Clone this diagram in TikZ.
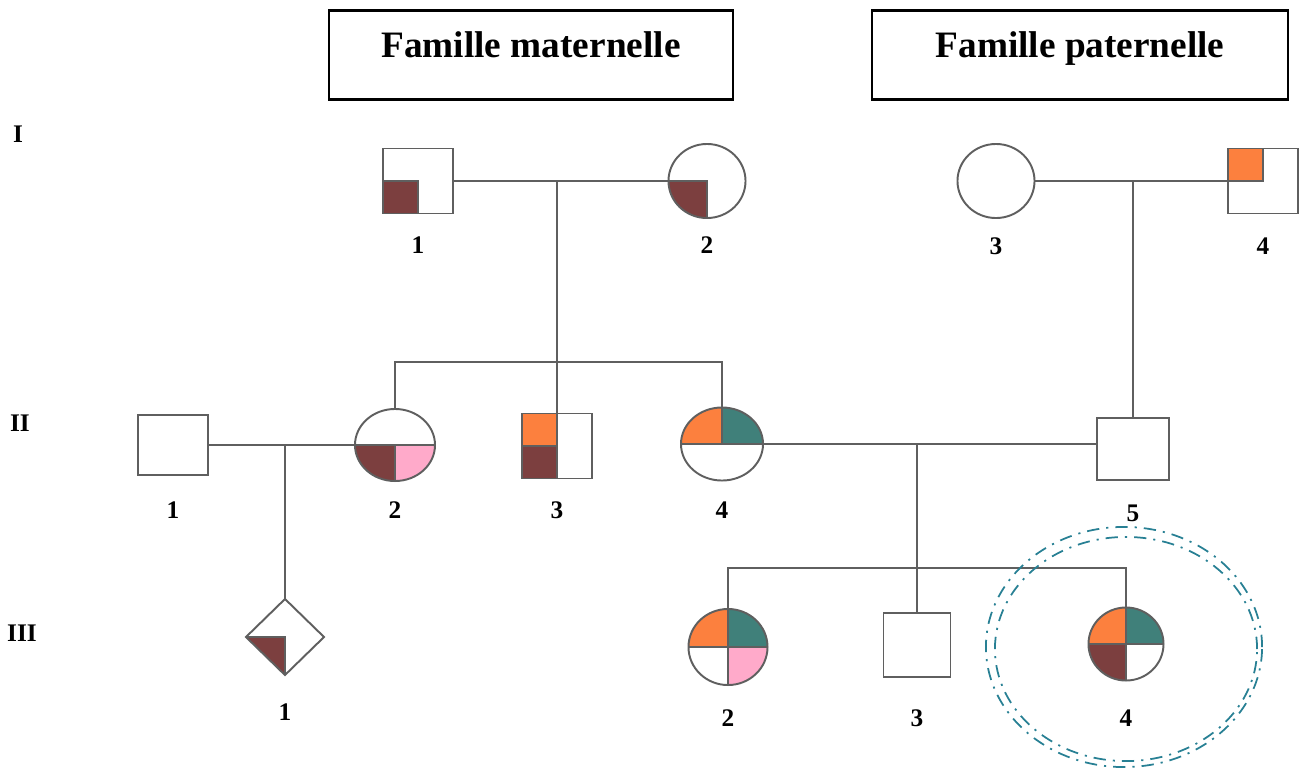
\documentclass[tikz,border=0pt]{standalone}
\usepackage{fontspec}
\setmainfont{Liberation Serif}
\usepackage{xcolor,tikz}
\usetikzlibrary{shapes.geometric,positioning}

\definecolor{brun}{RGB}{124,63,63}
\definecolor{orng}{RGB}{252,128,62}
\definecolor{sarc}{RGB}{64,128,122}
\definecolor{rose}{RGB}{255,170,202}
\definecolor{lgray}{RGB}{95,95,95}
\definecolor{cible}{RGB}{40,128,148}

\begin{document}
\begin{tikzpicture}[x=0.01cm,y=-0.01cm,
  ln/.style={draw=lgray,line width=0.55pt},
  fn/.style={},
  fb/.style={ln,fill=brun},
  fo/.style={ln,fill=orng},
  ft/.style={ln,fill=sarc},
  fp/.style={ln,fill=rose},
  pie/.style n args={4}{path picture={
    \path[#1] (path picture bounding box.center) rectangle (path picture bounding box.north west);
    \path[#2] (path picture bounding box.center) rectangle (path picture bounding box.north east);
    \path[#3] (path picture bounding box.center) rectangle (path picture bounding box.south west);
    \path[#4] (path picture bounding box.center) rectangle (path picture bounding box.south east);}},
  male/.style={ln,rectangle,minimum width=7mm,minimum height=6.5mm,inner sep=0pt,outer sep=0pt},
  female/.style={ln,ellipse,minimum width=7.7mm,minimum height=7.4mm,inner sep=0pt,outer sep=0pt},
  unk/.style={ln,diamond,minimum width=7.8mm,minimum height=7.6mm,inner sep=0pt,outer sep=0pt},
  hdr/.style={draw=black,line width=0.6pt,minimum height=8.9mm,text depth=2mm,font=\fontsize{10.6}{12}\selectfont\bfseries},
  num/.style={font=\fontsize{7.2}{8}\selectfont\bfseries},
  dsh/.style={draw=cible,line width=0.5pt,dash pattern=on 3.5pt off 2pt on 0.6pt off 2pt}]
\useasboundingbox (0,0) rectangle (1303,769);

% en-tetes
\node[hdr,minimum width=4.03cm] (mat) at (531,55) {Famille maternelle};
\node[hdr,minimum width=4.16cm] (pat) at (1080,55) {Famille paternelle};

% generations
\node[num] (gI) at (18,134) {I};
\node[num] (gII) at (20,423) {II};
\node[num] (gIII) at (22,633) {III};

% generation I
\node[male,pie={fn}{fn}{fb}{fn}] (I1) at (418,181) {};
\node[female,pie={fn}{fn}{fb}{fn}] (I2) at (707,181) {};
\node[female] (I3) at (996,181) {};
\node[male,pie={fo}{fn}{fn}{fn}] (I4) at (1263,181) {};

% generation II
\node[male,minimum height=6mm] (II1) at (173,445) {};
\node[female,minimum width=8mm,minimum height=7.2mm,pie={fn}{fn}{fb}{fp}] (II2) at (395,445) {};
\node[male,pie={fo}{fn}{fb}{fn}] (II3) at (557,446) {};
\node[female,minimum width=8.2mm,minimum height=7.3mm,pie={fo}{ft}{fn}{fn}] (II4) at (722,444) {};
\node[male,minimum width=7.2mm,minimum height=6.2mm] (II5) at (1133,449) {};

% generation III
\node[unk,pie={fn}{fn}{fb}{fn}] (III1) at (285,637) {};
\node[female,minimum width=7.9mm,minimum height=7.6mm,pie={fo}{ft}{fn}{fp}] (III2) at (728,647) {};
\node[male,minimum width=6.7mm,minimum height=6.4mm] (III3) at (917,645) {};
\node[female,minimum width=7.5mm,minimum height=7.3mm,pie={fo}{ft}{fb}{fn}] (III4) at (1126,644) {};

% numeros
\node[num] (nI1) at (I1 |- 0,245) {1};
\node[num] (nI2) at (I2 |- 0,245) {2};
\node[num] (nI3) at (I3 |- 0,246) {3};
\node[num] (nI4) at (I4 |- 0,246) {4};
\node[num] (nII1) at (II1 |- 0,510) {1};
\node[num] (nII2) at (II2 |- 0,510) {2};
\node[num] (nII3) at (II3 |- 0,510) {3};
\node[num] (nII4) at (II4 |- 0,510) {4};
\node[num] (nII5) at (II5 |- 0,513) {5};
\node[num] (nIII1) at (III1 |- 0,712) {1};
\node[num] (nIII2) at (III2 |- 0,718) {2};
\node[num] (nIII3) at (III3 |- 0,718) {3};
\node[num] (nIII4) at (III4 |- 0,718) {4};

% liens
\coordinate (sII) at (557,362);
\coordinate (sIII) at (917,568);
\draw[ln] (I1.east) -- (I2.west);
\draw[ln] (I1.east -| sII) -- (II3.north);
\draw[ln] (II2.north) |- (sII) -| (II4.north);
\draw[ln] (I3.east) -- (I4.west);
\draw[ln] (I3.east -| II5.north) -- (II5.north);
\draw[ln] (II1.east) -- (II2.west);
\draw[ln] (II1.east -| III1.north) -- (III1.north);
\draw[ln] (II4.east) -- (II4.east -| II5.west);
\draw[ln] (II4.east -| sIII) -- (sIII);
\draw[ln] (III2.north) |- (sIII) -| (III4.north);
\draw[ln] (sIII) -- (III3.north);

% cas index
\draw[dsh] (1124,647) ellipse [x radius=1.38cm,y radius=1.2cm];
\draw[dsh] (1126,649) ellipse [x radius=1.31cm,y radius=1.12cm];
\end{tikzpicture}
\end{document}
